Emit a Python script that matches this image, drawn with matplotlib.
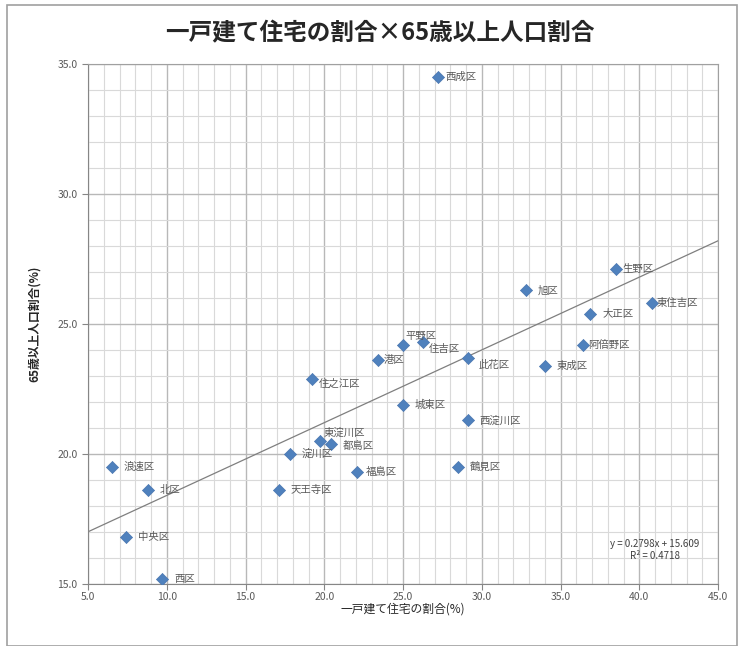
import numpy as np
import matplotlib
matplotlib.use("Agg")
import matplotlib.pyplot as plt
from matplotlib.patches import Rectangle
from matplotlib.ticker import MultipleLocator, FormatStrFormatter

plt.rcParams['font.family'] = ['Noto Sans CJK JP', 'DejaVu Sans']

# 大阪市24区: 一戸建て住宅の割合(%) と 65歳以上人口割合(%)
wards = ["西成区", "生野区", "東住吉区", "大正区", "阿倍野区", "東成区", "旭区", "平野区",
         "住吉区", "港区", "此花区", "住之江区", "城東区", "西淀川区", "東淀川区", "都島区",
         "淀川区", "福島区", "鶴見区", "天王寺区", "浪速区", "北区", "中央区", "西区"]
house = [27.2, 38.5, 40.8, 36.9, 36.4, 34.0, 32.8, 25.0,
         26.3, 23.4, 29.1, 19.2, 25.0, 29.1, 19.7, 20.4,
         17.8, 22.1, 28.5, 17.1, 6.5, 8.8, 7.4, 9.7]
elderly = [34.5, 27.1, 25.8, 25.4, 24.2, 23.4, 26.3, 24.2,
           24.3, 23.6, 23.7, 22.9, 21.9, 21.3, 20.5, 20.4,
           20.0, 19.3, 19.5, 18.6, 19.5, 18.6, 16.8, 15.2]

# 線形近似 (グラフ上の数式)
slope = 0.2798
intercept = 15.609
r2 = 0.4718

fig = plt.figure(figsize=(7.39, 6.46), dpi=100)
fig.patches.append(Rectangle((7 / 739, 0), 730 / 739, 641 / 646, transform=fig.transFigure,
                             fill=False, edgecolor="#a0a0a0", linewidth=1.2))

ax = fig.add_axes([88 / 739, 62 / 646, 630 / 739, 520 / 646])

ax.set_xlim(5, 45)
ax.set_ylim(15, 35)
ax.xaxis.set_major_locator(MultipleLocator(5))
ax.yaxis.set_major_locator(MultipleLocator(5))
ax.xaxis.set_minor_locator(MultipleLocator(1))
ax.yaxis.set_minor_locator(MultipleLocator(1))
ax.xaxis.set_major_formatter(FormatStrFormatter("%.1f"))
ax.yaxis.set_major_formatter(FormatStrFormatter("%.1f"))
ax.grid(which="major", color="#b8b8b8", linewidth=1.0)
ax.grid(which="minor", color="#d9d9d9", linewidth=0.8)
ax.set_axisbelow(True)
ax.tick_params(which="major", labelsize=7.5, labelcolor="#595959", color="#868686", length=4)
ax.tick_params(axis="x", which="major", pad=1.5)
ax.tick_params(which="minor", length=0)
for s in ax.spines.values():
    s.set_color("#a0a0a0")
ax.spines["left"].set_color("#868686")
ax.spines["bottom"].set_color("#868686")

xs = np.array([5, 45])
ax.plot(xs, slope * xs + intercept, color="#7f7f7f", linewidth=0.9, zorder=2)

ax.scatter(house, elderly, marker="D", s=38, color="#4f81bd", edgecolors="#4a76b0",
           linewidths=0.5, zorder=3)

# ラベル位置の調整 (ピクセル)
offsets = {"平野区": (2, 9), "住吉区": (5, -7), "此花区": (11, -7), "住之江区": (7, -5),
           "東淀川区": (4, 8), "都島区": (12, -2), "東住吉区": (5, 0), "阿倍野区": (6, 0),
           "港区": (6, 0), "西成区": (8, 0), "生野区": (7, 0), "福島区": (8, 0)}
for name, x, y in zip(wards, house, elderly):
    dx, dy = offsets.get(name, (12, 0))
    ax.annotate(name, (x, y), xytext=(dx, dy), textcoords="offset pixels",
                fontsize=7.5, color="#595959", va="center", ha="left", zorder=4)

ax.text(0.9, 0.065, f"y = {slope}x + {intercept}\nR² = {r2}", transform=ax.transAxes,
        fontsize=7, color="#404040", ha="center", va="center", linespacing=1.3)

fig.text(380 / 739, 1 - 33 / 646, "一戸建て住宅の割合×65歳以上人口割合", fontsize=17,
         fontweight="bold", color="#262626", ha="center", va="center")
ax.set_xlabel("一戸建て住宅の割合(%)", fontsize=8.5, color="#262626", labelpad=1)
ax.set_ylabel("65歳以上人口割合(%)", fontsize=8.5, fontweight="bold", color="#262626", labelpad=12)

fig.savefig("out.png", dpi=100)
